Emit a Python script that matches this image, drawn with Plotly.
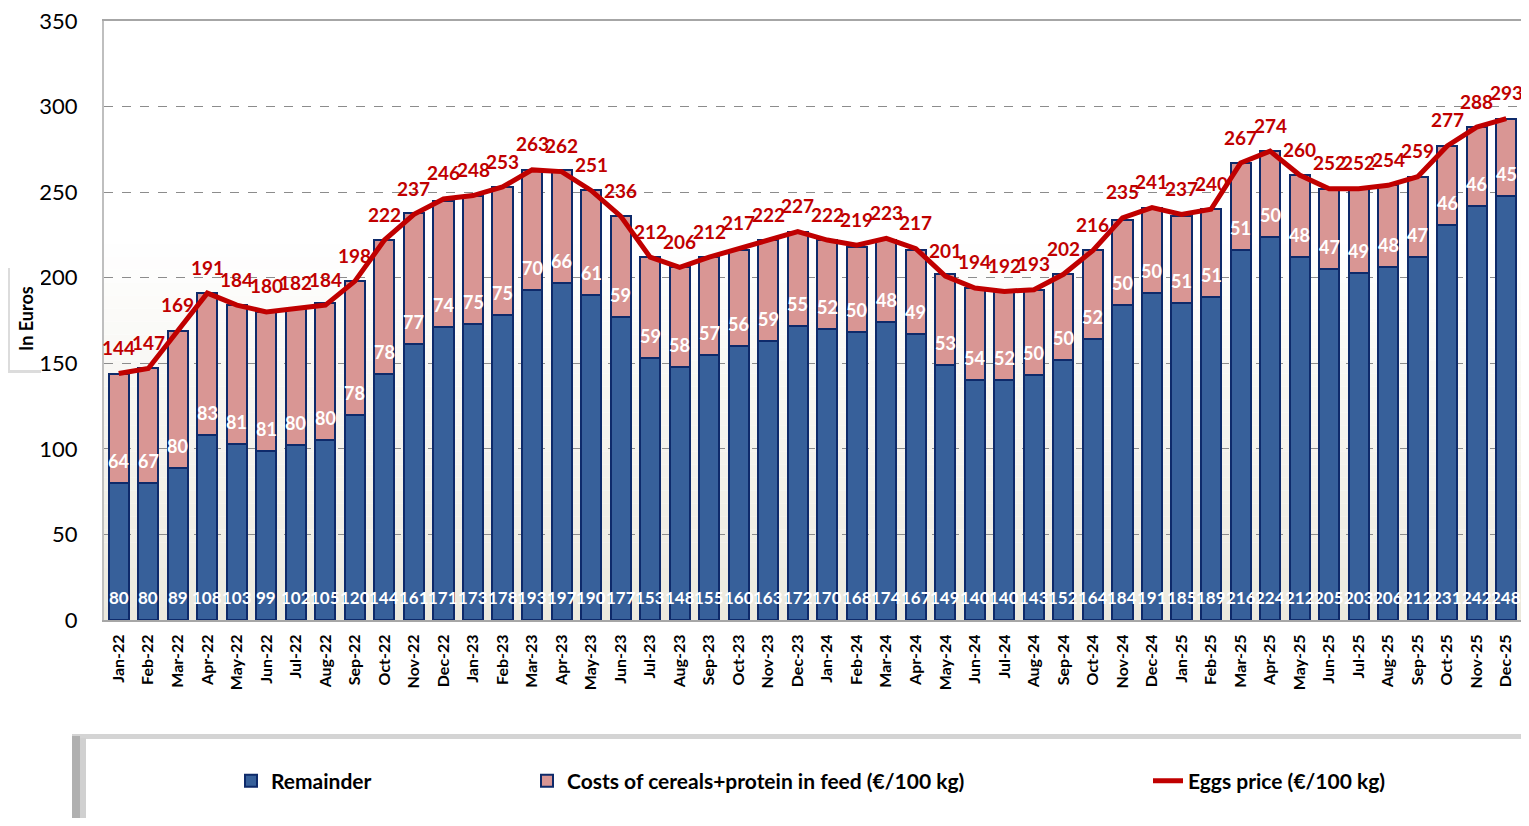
import plotly.graph_objects as go

months = ["Jan-22","Feb-22","Mar-22","Apr-22","May-22","Jun-22","Jul-22","Aug-22","Sep-22","Oct-22","Nov-22","Dec-22",
          "Jan-23","Feb-23","Mar-23","Apr-23","May-23","Jun-23","Jul-23","Aug-23","Sep-23","Oct-23","Nov-23","Dec-23",
          "Jan-24","Feb-24","Mar-24","Apr-24","May-24","Jun-24","Jul-24","Aug-24","Sep-24","Oct-24","Nov-24","Dec-24",
          "Jan-25","Feb-25","Mar-25","Apr-25","May-25","Jun-25","Jul-25","Aug-25","Sep-25","Oct-25","Nov-25","Dec-25"]

remainder = [80,80,89,108,103,99,102,105,120,144,161,171,
             173,178,193,197,190,177,153,148,155,160,163,172,
             170,168,174,167,149,140,140,143,152,164,184,191,
             185,189,216,224,212,205,203,206,212,231,242,248]

feed_costs = [64,67,80,83,81,81,80,80,78,78,77,74,
              75,75,70,66,61,59,59,58,57,56,59,55,
              52,50,48,49,53,54,52,50,50,52,50,50,
              51,51,51,50,48,47,49,48,47,46,46,45]

eggs_price = [144,147,169,191,184,180,182,184,198,222,237,246,
              248,253,263,262,251,236,212,206,212,217,222,227,
              222,219,223,217,201,194,192,193,202,216,235,241,
              237,240,267,274,260,252,252,254,259,277,288,293]

y_ticks = [0, 50, 100, 150, 200, 250, 300, 350]

FONT = "Lato"
BLUE = "#37609A"
PINK = "#D99694"
EDGE = "#0E2A6A"
RED = "#C00000"

fig = go.Figure()

fig.add_trace(go.Bar(
    x=months, y=remainder, name="Remainder",
    marker=dict(color=BLUE, line=dict(color=EDGE, width=2)),
    legend="legend", hoverinfo="skip",
))
fig.add_trace(go.Bar(
    x=months, y=feed_costs, name="Costs of cereals+protein in feed (€/100 kg)",
    marker=dict(color=PINK, line=dict(color=EDGE, width=2)),
    legend="legend2", hoverinfo="skip",
))
fig.add_trace(go.Scatter(
    x=months, y=eggs_price, name="Eggs price (€/100 kg)",
    mode="lines", line=dict(color=RED, width=5),
    legend="legend3", hoverinfo="skip",
))

annotations = []
for m, r, f, e in zip(months, remainder, feed_costs, eggs_price):
    annotations.append(dict(x=m, y=0, xref="x", yref="y", text="<b>%d</b>" % r, showarrow=False,
                            yanchor="middle", yshift=23,
                            font=dict(family=FONT, size=17, color="white")))
    annotations.append(dict(x=m, y=r, xref="x", yref="y", text="<b>%d</b>" % f, showarrow=False,
                            yanchor="middle", yshift=22,
                            font=dict(family=FONT, size=18, color="white")))
    annotations.append(dict(x=m, y=e, xref="x", yref="y", text="<b>%d</b>" % e, showarrow=False,
                            yanchor="middle", yshift=26,
                            font=dict(family=FONT, size=19, color=RED)))

# page has an 8px body margin: figure is drawn at page offset (8, 8)
OFF = 8
W, H = 1513, 810
L, T = 104 - OFF, 21 - OFF
R = 0
plot_bottom = 620 - OFF
B = H - plot_bottom
pw = W - L - R
ph = plot_bottom - T
def px(xp): return (xp - OFF - L) / pw
def py(yp): return (plot_bottom - (yp - OFF)) / ph

# background gradient (decoration)
shapes = []
n = 30
top = (255, 255, 255)
bot = (236, 233, 222)
for i in range(n):
    t = i / (n - 1)
    c = tuple(int(round(bot[k] + (top[k] - bot[k]) * t)) for k in range(3))
    shapes.append(dict(type="rect", xref="x domain", yref="y domain",
                       x0=0, x1=1, y0=0.65 * i / n, y1=0.65 * (i + 1) / n,
                       fillcolor="rgb(%d,%d,%d)" % c, line=dict(width=0), layer="below"))

def prect(x0, x1, y0, y1, color):
    return dict(type="rect", xref="paper", yref="paper", x0=px(x0), x1=px(x1), y0=py(y0), y1=py(y1),
                fillcolor=color, line=dict(width=0), layer="above")

# legend box with shadow
shapes.append(prect(72, 1530, 734, 740, "#D4D4D4"))
shapes.append(prect(72, 80, 736, 830, "#B0B0B0"))
shapes.append(prect(80, 86, 738, 830, "#D0D0D0"))
shapes.append(prect(86, 1530, 739, 830, "white"))
# y title box with shadow
shapes.append(prect(7, 41, 268, 373, "#DCDCDC"))
shapes.append(prect(10, 41, 268, 370, "white"))

annotations.append(dict(text="<b>In Euros</b>", xref="paper", yref="paper", x=px(26), y=py(319),
                        xanchor="center", yanchor="middle",
                        textangle=-90, showarrow=False, font=dict(family=FONT, size=18, color="black")))

legend_font = dict(family=FONT, size=21, weight="bold", color="black")
fig.update_layout(
    width=W, height=H,
    margin=dict(l=L, r=R, t=T, b=B, autoexpand=False),
    paper_bgcolor="white", plot_bgcolor="white",
    barmode="stack", bargap=0.32,
    font=dict(family=FONT, color="black"),
    shapes=shapes,
    annotations=annotations,
    showlegend=True,
    legend=dict(x=px(231), y=py(781), xanchor="left", yanchor="middle", orientation="h",
                font=legend_font, bgcolor="rgba(0,0,0,0)"),
    legend2=dict(x=px(527), y=py(781), xanchor="left", yanchor="middle", orientation="h",
                 font=legend_font, bgcolor="rgba(0,0,0,0)"),
    legend3=dict(x=px(1148), y=py(781), xanchor="left", yanchor="middle", orientation="h",
                 font=legend_font, bgcolor="rgba(0,0,0,0)"),
    xaxis=dict(type="category", range=[-0.5, len(months) - 0.5], tickangle=-90, showline=True,
               linecolor="#A6A6A6", linewidth=2, mirror=True, ticks="", ticklabelstandoff=6,
               tickfont=dict(family=FONT, size=16, weight="bold", color="black"), showgrid=False),
    yaxis=dict(range=[0, 350], tickvals=y_ticks, showline=True, linecolor="#BFBFBF", linewidth=2,
               mirror=True, showgrid=True, gridcolor="#8C8C8C", griddash="dash", gridwidth=1,
               ticks="", ticklabelstandoff=20, ticklabeloverflow="allow",
               tickfont=dict(family=FONT, size=22, color="black"), zeroline=False),
)

fig.write_html("out.html")
